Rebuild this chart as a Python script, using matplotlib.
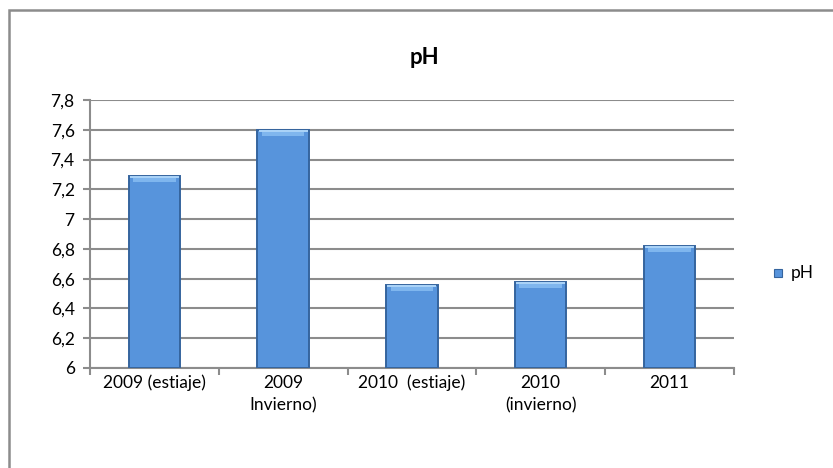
import matplotlib
matplotlib.use("Agg")
import matplotlib.pyplot as plt
from matplotlib.patches import Rectangle

plt.rcParams['font.family'] = ['Lato', 'DejaVu Sans']

categories = ['2009 (estiaje)', '2009\nInvierno)', '2010  (estiaje)', '2010\n(invierno)', '2011']
ph_values = [7.29, 7.60, 6.56, 6.58, 6.82]
y_ticks = [6, 6.2, 6.4, 6.6, 6.8, 7, 7.2, 7.4, 7.6, 7.8]
y_labels = ['6', '6,2', '6,4', '6,6', '6,8', '7', '7,2', '7,4', '7,6', '7,8']

grid_col = '#8c8c8c'
bar_col = '#5794dc'
edge_col = '#35649e'

fig = plt.figure(figsize=(8.33, 4.68), dpi=100)
ax = fig.add_axes([0.108, 0.2137, 0.773, 0.5726])

# outer chart frame (right/bottom run off the picture)
fig.patches.append(Rectangle((9 / 833, -0.1), 1.2, 1 - 10 / 468 + 0.1,
                             transform=fig.transFigure, fill=False,
                             edgecolor='#8c8c8c', lw=1.8))

x = list(range(len(categories)))
ax.bar(x, [v - 6 for v in ph_values], bottom=6, width=0.4, color=bar_col,
       edgecolor=edge_col, lw=1.4, zorder=3)
# bevel highlight on top of each bar
ax.bar(x, [0.035] * len(x), bottom=[v - 0.042 for v in ph_values], width=0.33,
       color='#7fb6ee', lw=0, zorder=4)
ax.bar(x, [0.012] * len(x), bottom=[v - 0.014 for v in ph_values], width=0.38,
       color='#a9d2f7', lw=0, zorder=4)

ax.set_ylim(6, 7.8)
ax.set_xlim(-0.5, 4.5)
ax.set_yticks(y_ticks)
ax.set_yticklabels(y_labels, fontsize=12.5)
ax.yaxis.grid(True, color=grid_col, lw=1.5, zorder=0)
ax.set_axisbelow(True)

ax.set_xticks([i - 0.5 for i in range(len(categories) + 1)])
ax.set_xticklabels([])
ax.set_xticks(x, minor=True)
ax.set_xticklabels(categories, minor=True, fontsize=12.5, linespacing=1.45)
ax.tick_params(axis='x', which='minor', length=0, pad=5)
ax.tick_params(axis='x', which='major', length=5, color=grid_col, width=1.5)
ax.tick_params(axis='y', length=5, color=grid_col, width=1.5, pad=6)

for s in ['top', 'right']:
    ax.spines[s].set_visible(False)
for s in ['left', 'bottom']:
    ax.spines[s].set_color(grid_col)
    ax.spines[s].set_linewidth(1.5)

fig.text(424 / 833, 1 - 57 / 468, 'pH', ha='center', va='center',
         fontsize=16, fontweight='bold')

# legend
fig.patches.append(Rectangle((774 / 833, 1 - 277 / 468), 8 / 833, 8 / 468,
                             transform=fig.transFigure, facecolor=bar_col,
                             edgecolor=edge_col, lw=0.8))
fig.text(791 / 833, 1 - 273 / 468, 'pH', ha='left', va='center', fontsize=12.5)

fig.savefig('out.png', dpi=100)
